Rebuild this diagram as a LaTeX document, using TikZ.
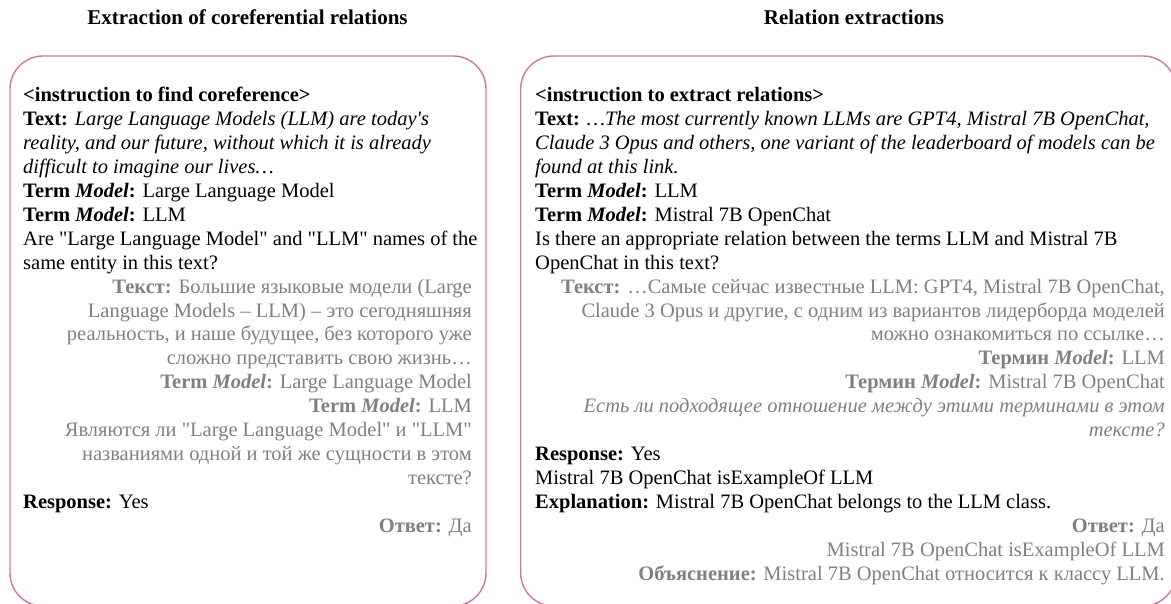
\documentclass[tikz,border=0pt]{standalone}
\usepackage{fontspec}
\setmainfont{Liberation Serif}[Ligatures=TeXOff]
\definecolor{boxpink}{RGB}{200,122,166}
\definecolor{txtgray}{RGB}{128,128,128}
\tikzset{
  panel/.style={draw=boxpink, line width=1.4pt, rounded corners=33pt},
  ttl/.style={anchor=base, font=\fontsize{21}{24}\selectfont\bfseries, inner sep=0pt},
  lft/.style={anchor=base west, inner sep=0pt, font=\fontsize{20.5}{24}\selectfont},
  rgt/.style={anchor=base east, inner sep=0pt, text=txtgray, font=\fontsize{20.5}{24}\selectfont},
}
\begin{document}
\begin{tikzpicture}[x=1pt,y=-1pt]
\useasboundingbox (0,0) rectangle (1171,604);
% titles
\node[ttl] (t1) at (247.5,25) {Extraction of coreferential relations};
\node[ttl] (t2) at (854,25) {Relation extractions};
% panels
\draw[panel] (10,56) rectangle (486,606);
\draw[panel] (520.7,56) rectangle (1176,606);
% left panel
\def\B#1{102+23.9*#1}
\node[lft] (a0) at (23,{\B{0}}) {\textbf{<instruction to find coreference>}};
\node[lft] (a1) at (23,{\B{1}}) {\textbf{Text:} \textit{Large Language Models (LLM) are today's}};
\node[lft] (a2) at (23,{\B{2}}) {\textit{reality, and our future, without which it is already}};
\node[lft] (a3) at (23,{\B{3}}) {\textit{difficult to imagine our lives…}};
\node[lft] (a4) at (23,{\B{4}}) {\textbf{Term \textit{Model}:} Large Language Model};
\node[lft] (a5) at (23,{\B{5}}) {\textbf{Term \textit{Model}:} LLM};
\node[lft] (a6) at (23,{\B{6}}) {Are "Large Language Model" and "LLM" names of the};
\node[lft] (a7) at (23,{\B{7}}) {same entity in this text?};
\node[rgt] (a8) at (472,{\B{8}}) {\textbf{Текст:} Большие языковые модели (Large};
\node[rgt] (a9) at (472,{\B{9}}) {Language Models – LLM) – это сегодняшняя};
\node[rgt] (a10) at (472,{\B{10}}) {реальность, и наше будущее, без которого уже};
\node[rgt] (a11) at (472,{\B{11}}) {сложно представить свою жизнь…};
\node[rgt] (a12) at (472,{\B{12}}) {\textbf{Term \textit{Model}:} Large Language Model};
\node[rgt] (a13) at (472,{\B{13}}) {\textbf{Term \textit{Model}:} LLM};
\node[rgt] (a14) at (472,{\B{14}}) {Являются ли "Large Language Model" и "LLM"};
\node[rgt] (a15) at (472,{\B{15}}) {названиями одной и той же сущности в этом};
\node[rgt] (a16) at (472,{\B{16}}) {тексте?};
\node[lft] (a17) at (23,{\B{17}}) {\textbf{Response:} Yes};
\node[rgt] (a18) at (472,{\B{18}}) {\textbf{Ответ:} Да};
% right panel
\node[lft] (b0) at (535,{\B{0}}) {\textbf{<instruction to extract relations>}};
\node[lft] (b1) at (535,{\B{1}}) {\textbf{Text:} \textit{…The most currently known LLMs are GPT4, Mistral 7B OpenChat,}};
\node[lft] (b2) at (535,{\B{2}}) {\textit{Claude 3 Opus and others, one variant of the leaderboard of models can be}};
\node[lft] (b3) at (535,{\B{3}}) {\textit{found at this link.}};
\node[lft] (b4) at (535,{\B{4}}) {\textbf{Term \textit{Model}:} LLM};
\node[lft] (b5) at (535,{\B{5}}) {\textbf{Term \textit{Model}:} Mistral 7B OpenChat};
\node[lft] (b6) at (535,{\B{6}}) {Is there an appropriate relation between the terms LLM and Mistral 7B};
\node[lft] (b7) at (535,{\B{7}}) {OpenChat in this text?};
\node[rgt] (b8) at (1165,{\B{8}}) {\textbf{Текст:} …Самые сейчас известные LLM: GPT4, Mistral 7B OpenChat,};
\node[rgt] (b9) at (1165,{\B{9}}) {Claude 3 Opus и другие, с одним из вариантов лидерборда моделей};
\node[rgt] (b10) at (1165,{\B{10}}) {можно ознакомиться по ссылке…};
\node[rgt] (b11) at (1165,{\B{11}}) {\textbf{Термин \textit{Model}:} LLM};
\node[rgt] (b12) at (1165,{\B{12}}) {\textbf{Термин \textit{Model}:} Mistral 7B OpenChat};
\node[rgt] (b13) at (1165,{\B{13}}) {\textit{Есть ли подходящее отношение между этими терминами в этом}};
\node[rgt] (b14) at (1165,{\B{14}}) {\textit{тексте?}};
\node[lft] (b15) at (535,{\B{15}}) {\textbf{Response:} Yes};
\node[lft] (b16) at (535,{\B{16}}) {Mistral 7B OpenChat isExampleOf LLM};
\node[lft] (b17) at (535,{\B{17}}) {\textbf{Explanation:} Mistral 7B OpenChat belongs to the LLM class.};
\node[rgt] (b18) at (1165,{\B{18}}) {\textbf{Ответ:} Да};
\node[rgt] (b19) at (1165,{\B{19}}) {Mistral 7B OpenChat isExampleOf LLM};
\node[rgt] (b20) at (1165,{\B{20}}) {\textbf{Объяснение:} Mistral 7B OpenChat относится к классу LLM.};
\end{tikzpicture}
\end{document}
